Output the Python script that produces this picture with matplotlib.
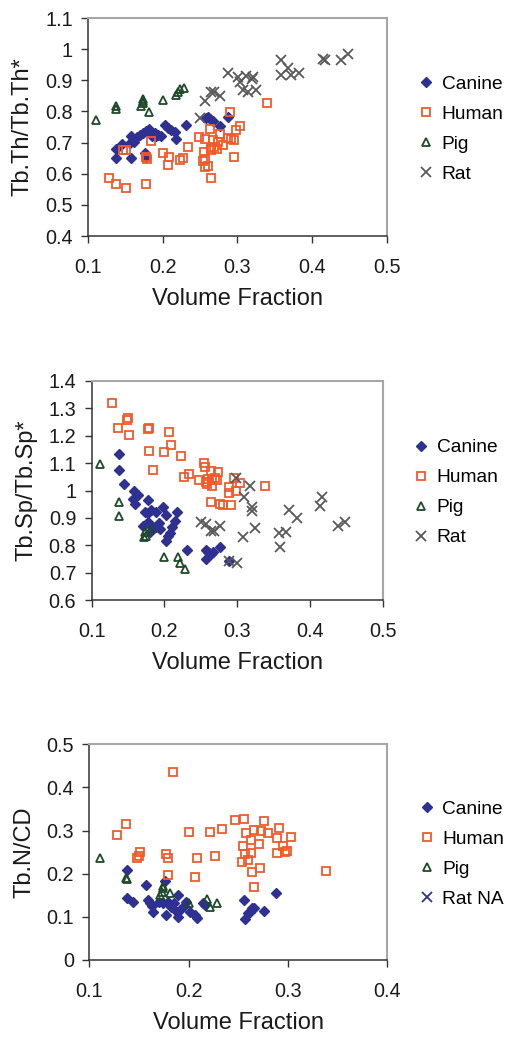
import numpy as np
import matplotlib
matplotlib.use('Agg')
import matplotlib.pyplot as plt
from matplotlib.ticker import FuncFormatter, MultipleLocator

plt.rcParams['font.family'] = ['Liberation Sans', 'DejaVu Sans']

# ---- panel 1: Tb.Th/Tb.Th* vs volume fraction
canine_x1 = [0.137, 0.137, 0.145, 0.157, 0.158, 0.160, 0.162, 0.169, 0.174, 0.178, 0.182, 0.185,
             0.189, 0.194, 0.197, 0.203, 0.207, 0.211, 0.216, 0.218, 0.231, 0.258, 0.261, 0.263,
             0.267, 0.276, 0.288, 0.176, 0.178, 0.156, 0.165, 0.191]
canine_y1 = [0.680, 0.652, 0.696, 0.651, 0.720, 0.709, 0.703, 0.725, 0.730, 0.736, 0.743, 0.720,
             0.730, 0.725, 0.722, 0.757, 0.746, 0.741, 0.733, 0.711, 0.757, 0.778, 0.782, 0.775,
             0.768, 0.752, 0.782, 0.666, 0.655, 0.698, 0.717, 0.720]
human_x1 = [0.128, 0.137, 0.151, 0.178, 0.147, 0.151, 0.184, 0.178, 0.179, 0.200, 0.208, 0.207,
            0.223, 0.227, 0.234, 0.248, 0.257, 0.255, 0.256, 0.257, 0.261, 0.263, 0.264, 0.265,
            0.267, 0.269, 0.272, 0.274, 0.276, 0.281, 0.287, 0.290, 0.292, 0.295, 0.296, 0.298,
            0.303, 0.339, 0.254, 0.265]
human_y1 = [0.586, 0.566, 0.553, 0.568, 0.675, 0.677, 0.705, 0.655, 0.647, 0.666, 0.653, 0.629,
            0.644, 0.652, 0.685, 0.717, 0.711, 0.671, 0.647, 0.623, 0.626, 0.743, 0.677, 0.586,
            0.709, 0.687, 0.679, 0.703, 0.727, 0.691, 0.714, 0.797, 0.711, 0.707, 0.653, 0.741,
            0.752, 0.827, 0.640, 0.682]
pig_x1 = [0.111, 0.137, 0.138, 0.173, 0.174, 0.171, 0.181, 0.200, 0.218, 0.220, 0.223, 0.229, 0.174]
pig_y1 = [0.771, 0.818, 0.807, 0.835, 0.827, 0.818, 0.797, 0.837, 0.853, 0.864, 0.872, 0.875, 0.840]
rat_x1 = [0.250, 0.257, 0.265, 0.269, 0.276, 0.288, 0.301, 0.303, 0.307, 0.312, 0.314, 0.319,
          0.321, 0.325, 0.358, 0.358, 0.368, 0.372, 0.382, 0.414, 0.417, 0.439, 0.448]
rat_y1 = [0.778, 0.835, 0.864, 0.861, 0.850, 0.925, 0.910, 0.896, 0.870, 0.915, 0.864, 0.905,
          0.910, 0.870, 0.964, 0.918, 0.939, 0.918, 0.925, 0.968, 0.966, 0.964, 0.985]

# ---- panel 2: Tb.Sp/Tb.Sp* vs volume fraction
canine_x2 = [0.138, 0.138, 0.145, 0.158, 0.162, 0.164, 0.157, 0.160, 0.177, 0.173, 0.178, 0.182,
             0.189, 0.198, 0.202, 0.218, 0.215, 0.171, 0.178, 0.182, 0.187, 0.192, 0.194, 0.180,
             0.210, 0.208, 0.205, 0.202, 0.231, 0.257, 0.260, 0.264, 0.267, 0.276, 0.257, 0.289,
             0.189]
canine_y2 = [1.135, 1.076, 1.022, 0.998, 0.985, 0.982, 0.969, 0.951, 0.966, 0.920, 0.917, 0.927,
             0.920, 0.939, 0.912, 0.922, 0.890, 0.872, 0.884, 0.872, 0.865, 0.880, 0.859, 0.847,
             0.865, 0.843, 0.835, 0.817, 0.782, 0.782, 0.774, 0.768, 0.777, 0.794, 0.749, 0.743,
             0.865]
human_x2 = [0.128, 0.136, 0.148, 0.150, 0.152, 0.178, 0.179, 0.207, 0.179, 0.200, 0.209, 0.184,
            0.223, 0.227, 0.234, 0.248, 0.254, 0.256, 0.257, 0.258, 0.260, 0.264, 0.265, 0.266,
            0.270, 0.272, 0.274, 0.264, 0.276, 0.280, 0.292, 0.289, 0.289, 0.296, 0.299, 0.304,
            0.338]
human_y2 = [1.318, 1.229, 1.257, 1.265, 1.203, 1.223, 1.230, 1.215, 1.144, 1.141, 1.165, 1.076,
            1.126, 1.048, 1.061, 1.039, 1.100, 1.086, 1.031, 1.022, 1.043, 1.073, 1.037, 1.018,
            1.045, 1.039, 1.067, 0.957, 0.951, 0.947, 0.946, 1.012, 0.991, 1.044, 0.998, 1.027,
            1.018]
pig_x2 = [0.111, 0.138, 0.137, 0.173, 0.175, 0.172, 0.181, 0.200, 0.219, 0.221, 0.229]
pig_y2 = [1.098, 0.957, 0.908, 0.847, 0.835, 0.829, 0.859, 0.758, 0.758, 0.737, 0.712]
rat_x2 = [0.299, 0.318, 0.309, 0.320, 0.321, 0.251, 0.257, 0.264, 0.268, 0.276, 0.308, 0.325,
          0.358, 0.367, 0.359, 0.372, 0.382, 0.414, 0.417, 0.289, 0.300, 0.439, 0.448]
rat_y2 = [1.046, 1.018, 0.976, 0.941, 0.924, 0.886, 0.878, 0.851, 0.851, 0.872, 0.831, 0.862,
          0.843, 0.847, 0.794, 0.927, 0.899, 0.943, 0.978, 0.743, 0.734, 0.872, 0.884]

# ---- panel 3: Tb.N/CD vs volume fraction (no rat data)
canine_x3 = [0.138, 0.138, 0.144, 0.157, 0.159, 0.161, 0.163, 0.164, 0.170, 0.176, 0.177, 0.179,
             0.181, 0.182, 0.189, 0.188, 0.189, 0.191, 0.195, 0.197, 0.201, 0.206, 0.208, 0.214,
             0.216, 0.256, 0.257, 0.260, 0.262, 0.264, 0.266, 0.276, 0.288, 0.174, 0.185]
canine_y3 = [0.209, 0.143, 0.134, 0.174, 0.138, 0.131, 0.124, 0.110, 0.134, 0.184, 0.104, 0.135,
             0.128, 0.122, 0.151, 0.112, 0.100, 0.116, 0.124, 0.135, 0.110, 0.104, 0.097, 0.133,
             0.128, 0.138, 0.095, 0.108, 0.112, 0.120, 0.120, 0.114, 0.155, 0.131, 0.131]
human_x3 = [0.184, 0.128, 0.137, 0.148, 0.150, 0.151, 0.177, 0.179, 0.179, 0.200, 0.208, 0.206,
            0.222, 0.227, 0.234, 0.247, 0.256, 0.255, 0.254, 0.257, 0.258, 0.260, 0.263, 0.263,
            0.264, 0.266, 0.266, 0.271, 0.272, 0.273, 0.276, 0.280, 0.289, 0.289, 0.291, 0.295,
            0.297, 0.299, 0.303, 0.338]
human_y3 = [0.435, 0.289, 0.315, 0.237, 0.240, 0.250, 0.245, 0.237, 0.196, 0.296, 0.236, 0.193,
            0.296, 0.242, 0.304, 0.325, 0.326, 0.264, 0.226, 0.246, 0.295, 0.232, 0.277, 0.249,
            0.205, 0.301, 0.170, 0.269, 0.212, 0.300, 0.322, 0.295, 0.282, 0.247, 0.305, 0.263,
            0.251, 0.253, 0.285, 0.206]
pig_x3 = [0.111, 0.137, 0.138, 0.171, 0.173, 0.174, 0.174, 0.181, 0.200, 0.219, 0.222, 0.229]
pig_y3 = [0.236, 0.189, 0.187, 0.151, 0.158, 0.166, 0.172, 0.155, 0.133, 0.141, 0.122, 0.131]

navy = '#2E3192'
red = '#F15A2B'
green = '#1E4A2A'
gray = '#595959'

fig = plt.figure(figsize=(5.09, 10.37), dpi=100)

def style(ax, xmax, ymin, ymax, ystep, ylabel):
    ax.set_xlim(0.1, xmax)
    ax.set_ylim(ymin, ymax)
    ax.xaxis.set_major_locator(MultipleLocator(0.1))
    ax.yaxis.set_major_locator(MultipleLocator(ystep))
    fmt = FuncFormatter(lambda v, p: '%g' % round(v, 2))
    ax.xaxis.set_major_formatter(fmt)
    ax.yaxis.set_major_formatter(fmt)
    ax.tick_params(direction='out', length=5, width=1, color='#333333',
                   labelsize=14.3, labelcolor='#1a1a1a')
    ax.tick_params(axis='x', pad=11)
    ax.tick_params(axis='y', pad=6)
    for s in ['left', 'bottom']:
        ax.spines[s].set_color('#333333')
        ax.spines[s].set_linewidth(1.1)
    for s in ['top', 'right']:
        ax.spines[s].set_color('#a6a6a6')
        ax.spines[s].set_linewidth(1.5)
    ax.set_xlabel('Volume Fraction', fontsize=17, color='#1a1a1a', labelpad=8)
    ax.set_ylabel(ylabel, fontsize=17, color='#1a1a1a', labelpad=8)

def draw(ax, cx, cy, hx, hy, px, py, rx, ry, ratlab, ratcol):
    ax.plot(cx, cy, 'D', ms=5.5, color=navy, mec=navy, ls='none', label='Canine')
    ax.plot(hx, hy, 's', ms=6, mfc='none', mec=red, mew=1.3, ls='none', label='Human')
    ax.plot(px, py, '^', ms=6, mfc='none', mec=green, mew=1.3, ls='none', label='Pig')
    ax.plot(rx, ry, 'x', ms=7, mec=ratcol, mew=1.3, ls='none', label=ratlab)
    ax.legend(loc='center left', bbox_to_anchor=(1.11, 0.49), frameon=False,
              fontsize=13.8, numpoints=1, handlelength=0.7, handletextpad=0.45,
              labelspacing=0.66, borderpad=0, borderaxespad=0)

ax1 = fig.add_axes([0.173, 0.7724, 0.587, 0.2102])
draw(ax1, canine_x1, canine_y1, human_x1, human_y1, pig_x1, pig_y1, rat_x1, rat_y1, 'Rat', gray)
style(ax1, 0.5, 0.4, 1.1, 0.1, 'Tb.Th/Tb.Th*')

ax2 = fig.add_axes([0.180, 0.4214, 0.5717, 0.2112])
draw(ax2, canine_x2, canine_y2, human_x2, human_y2, pig_x2, pig_y2, rat_x2, rat_y2, 'Rat', gray)
style(ax2, 0.5, 0.6, 1.4, 0.1, 'Tb.Sp/Tb.Sp*')

ax3 = fig.add_axes([0.1754, 0.0743, 0.5855, 0.208])
draw(ax3, canine_x3, canine_y3, human_x3, human_y3, pig_x3, pig_y3, [], [], 'Rat NA', navy)
style(ax3, 0.4, 0.0, 0.5, 0.1, 'Tb.N/CD')

fig.savefig('out.png', dpi=100)
